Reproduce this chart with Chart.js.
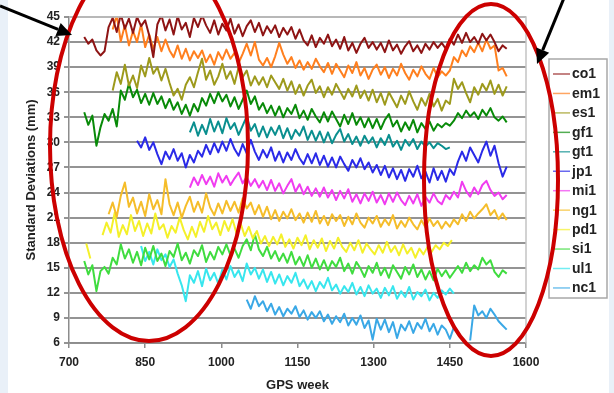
<!DOCTYPE html>
<html>
<head>
<meta charset="utf-8">
<script src="https://cdn.jsdelivr.net/npm/chart.js@4.4.1/dist/chart.umd.min.js"></script>
<style>
  html, body { margin: 0; padding: 0; background: #fff; }
  #wrap { width: 614px; height: 393px; position: relative; }
</style>
</head>
<body>
<div id="wrap"><canvas id="chart" width="614" height="393"></canvas></div>
<script>
// Weekly standard deviations per station, sampled every 8 GPS weeks.
const WEEK_STEP = 8;

const seriesNames = ['co1', 'em1', 'es1', 'gf1', 'gt1', 'jp1', 'mi1', 'ng1', 'pd1', 'si1', 'ul1', 'nc1'];
const seriesColors = ['#8e1414', '#ff7f1e', '#9d9a1c', '#088a08', '#0a8f8f', '#2a2ae8',
                      '#f03cf0', '#f5bd2a', '#f4f02a', '#3fdc3f', '#38e6ee', '#3aa8e6'];
const seriesStart = [730, 786, 786, 730, 938, 834, 938, 778, 734, 730, 842, 1050];

const xTicks = { min: 700, max: 1600, step: 150 };
const yTicks = { min: 6, max: 45, step: 3 };

const co1 = [42.6, 41.8, 42.3, 41.0, 40.4, 40.9, 43.8, 44.9, 43.2, 45.3, 43.6, 44.8, 43.1, 45.0, 43.9, 44.6,
  42.8, 40.2, 44.1, 45.2, 43.4, 44.7, 42.9, 45.1, 43.5, 44.3, 42.6, 44.9, 43.8, 45.2, 44.0, 43.1, 44.6, 42.9,
  44.2, 43.4, 44.8, 43.0, 44.1, 42.7, 43.9, 44.6, 43.2, 44.3, 42.8, 43.9, 43.1, 44.0, 42.6, 43.7, 42.9, 43.8,
  42.4, 43.5, 42.2, 41.6, 42.8, 41.4, 42.5, 41.8, 42.9, 41.5, 42.3, 41.2, 42.6, 41.0, 41.9, 40.7, 41.8, 42.5,
  41.3, 42.0, 41.1, 41.9, 40.8, 42.2, 41.0, 41.7, 40.6, 41.5, 42.1, 40.9, 41.6, 40.7, 41.8, 41.1, 42.0, 41.3,
  41.9, 41.2, 42.4, 41.7, 42.9, 41.9, 43.1, 42.0, 42.6, 41.8, 43.0, 42.2, 42.9, 42.0, 40.9, 41.6, 41.2];

const em1 = [43.5, 45.2, 42.1, 44.0, 41.6, 43.3, 42.0, 44.1, 41.4, 42.9, 41.2, 42.6, 40.9, 42.3, 41.0, 40.2,
  41.6, 40.0, 41.2, 39.8, 40.9, 40.1, 41.0, 39.6, 40.5, 39.3, 40.8, 39.9, 41.1, 40.0, 40.7, 39.5, 40.6, 41.8,
  40.4, 42.0, 39.9, 39.2, 40.1, 39.0, 40.3, 41.9, 40.5, 39.4, 40.2, 38.9, 39.8, 38.7, 39.6, 38.8, 40.0, 39.1,
  38.4, 39.5, 38.2, 39.4, 38.6, 37.8, 39.2, 38.3, 39.6, 38.0, 38.9, 37.6, 38.7, 39.3, 38.1, 39.0, 37.7, 38.8,
  38.0, 39.4, 38.3, 37.5, 38.7, 37.9, 39.1, 38.2, 37.6, 38.9, 37.8, 38.5, 38.0, 38.6, 40.2, 39.6, 41.0, 40.3,
  41.5, 40.8, 41.9, 40.9, 42.3, 41.2, 41.6, 38.6, 38.9, 37.9];

const es1 = [36.2, 38.4, 37.0, 39.3, 36.8, 38.0, 36.5, 39.2, 37.9, 40.1, 38.2, 39.0, 37.4, 38.8, 37.1, 35.6,
  36.4, 35.1, 36.9, 37.8, 36.6, 38.4, 40.0, 37.5, 38.6, 36.9, 37.9, 39.4, 37.6, 38.5, 37.0, 39.0, 37.8, 38.6,
  36.8, 37.9, 36.9, 37.8, 36.6, 38.0, 37.2, 36.4, 37.6, 36.2, 37.3, 35.8, 36.9, 35.6, 36.8, 37.5, 35.9, 36.7,
  35.4, 36.6, 35.7, 37.0, 36.1, 35.2, 36.4, 35.5, 36.8, 35.3, 36.2, 35.0, 36.3, 34.8, 35.9, 34.5, 36.0, 35.1,
  34.2, 35.6, 34.6, 36.1, 34.9, 33.9, 35.3, 34.4, 35.8, 34.3, 35.2, 33.8, 35.0, 34.6, 37.6, 36.4, 37.2, 35.9,
  34.8, 36.6, 35.7, 37.0, 36.2, 37.4, 35.8, 36.9, 35.6, 36.7];

const gf1 = [33.6, 32.1, 33.2, 29.6, 31.8, 33.4, 32.6, 34.0, 31.9, 36.2, 35.1, 37.0, 35.4, 36.3, 34.7, 35.8,
  34.5, 35.9, 34.6, 35.5, 34.1, 35.2, 33.9, 34.8, 33.4, 34.5, 33.2, 34.6, 33.7, 35.3, 34.4, 35.8, 34.7, 36.0,
  34.9, 35.7, 34.3, 35.4, 34.0, 35.1, 36.2, 34.6, 35.5, 33.9, 34.7, 33.5, 34.4, 33.2, 34.3, 33.0, 34.1, 33.4,
  34.5, 32.9, 33.8, 32.7, 34.0, 33.1, 32.4, 33.6, 32.5, 33.7, 32.8, 31.9, 33.3, 32.2, 33.5, 32.1, 33.0, 31.8,
  32.9, 31.7, 32.8, 31.6, 32.7, 33.4, 31.9, 32.6, 31.3, 32.4, 31.5, 32.7, 31.2, 32.3, 31.6, 32.5, 31.4, 32.2,
  31.8, 32.3, 32.0, 32.6, 33.5, 32.9, 33.8, 33.1, 33.6, 32.8, 33.9, 33.2, 34.1, 33.0, 32.6, 33.1, 32.4];

const gt1 = [31.2, 32.4, 30.8, 32.1, 31.0, 32.8, 31.3, 32.5, 31.1, 32.9, 31.6, 32.3, 30.9, 32.0, 33.1, 31.4,
  32.2, 30.7, 31.9, 30.6, 31.8, 30.9, 32.0, 30.5, 31.7, 30.4, 31.5, 30.8, 31.9, 30.3, 31.4, 30.2, 31.3, 30.0,
  31.2, 29.9, 30.9, 31.6, 30.1, 31.0, 29.8, 30.7, 29.6, 30.8, 29.9, 30.6, 29.4, 30.5, 29.7, 30.9, 29.5, 30.2,
  29.1, 30.3, 29.6, 30.4, 29.2, 30.1, 29.5, 30.0, 29.3, 29.9, 29.6, 29.2, 29.4];

const jp1 = [30.2, 29.4, 30.6, 29.1, 30.0, 28.6, 27.4, 28.9, 28.0, 29.2, 27.8, 28.7, 27.0, 28.5, 27.6, 29.0,
  28.3, 29.7, 28.6, 29.9, 28.8, 30.1, 29.0, 30.4, 29.2, 28.4, 29.8, 28.7, 30.3, 28.9, 27.9, 29.1, 28.2, 29.4,
  27.8, 28.9, 27.6, 28.8, 27.9, 29.2, 28.1, 27.4, 28.6, 27.5, 28.7, 27.3, 28.4, 27.1, 28.2, 27.0, 28.3, 27.4,
  26.6, 27.9, 27.0, 28.1, 26.8, 27.6, 26.4, 27.3, 26.1, 27.2, 25.8, 26.9, 25.6, 26.7, 25.4, 26.8, 25.9, 27.2,
  25.7, 26.5, 25.2, 26.9, 25.5, 26.6, 25.3, 26.8, 26.1, 27.7, 28.9, 27.8, 29.4, 28.5, 27.6, 29.0, 30.1, 28.4,
  29.6, 27.5, 25.9, 27.1];

const mi1 = [24.6, 25.8, 24.9, 26.1, 25.0, 25.9, 24.7, 26.3, 25.2, 26.0, 24.9, 25.7, 26.4, 25.1, 25.9, 24.8,
  25.6, 24.6, 25.4, 24.3, 25.5, 24.2, 25.1, 23.9, 24.8, 25.6, 24.1, 25.0, 23.8, 24.7, 23.6, 24.5, 23.5, 24.6,
  23.4, 24.3, 23.1, 24.2, 23.3, 24.4, 22.9, 23.8, 22.7, 23.9, 23.0, 24.1, 22.8, 23.7, 22.6, 23.9, 22.9, 24.0,
  23.1, 22.5, 23.6, 22.7, 23.8, 22.4, 23.5, 22.8, 23.9, 23.0, 22.6, 23.7, 23.2, 24.1, 23.4, 25.3, 24.2, 23.5,
  24.6, 23.8, 24.9, 25.4, 24.3, 23.6, 24.0, 23.2, 23.7];

const ng1 = [21.4, 22.8, 21.1, 23.6, 25.2, 22.3, 23.4, 21.5, 22.9, 21.2, 23.8, 22.0, 23.1, 21.4, 25.6, 22.6,
  21.3, 22.8, 21.0, 22.4, 23.5, 21.7, 22.9, 21.6, 23.9, 22.2, 21.3, 22.7, 21.5, 23.0, 21.8, 22.9, 21.6, 23.3,
  22.1, 22.8, 21.4, 22.5, 21.1, 22.3, 20.8, 21.9, 20.6, 21.7, 20.9, 22.0, 20.7, 21.5, 20.4, 21.6, 20.5, 21.8,
  20.3, 21.2, 20.1, 21.4, 20.6, 21.3, 20.0, 21.1, 20.2, 21.5, 20.4, 19.8, 21.0, 20.3, 21.2, 19.9, 20.8, 20.1,
  21.3, 19.7, 20.6, 19.9, 21.0, 20.2, 19.6, 20.7, 19.8, 20.9, 20.0, 20.6, 19.7, 20.5, 19.9, 20.8, 20.2, 21.4,
  20.6, 21.7, 20.9, 21.5, 22.0, 22.6, 21.3, 21.9, 20.8, 21.5, 20.7];

const pd1 = [17.9, 16.1, null, null, 18.9, 20.4, 19.2, 21.6, 18.7, 20.1, 19.0, 21.3, 19.4, 20.6, 18.8, 20.3,
  19.1, 21.5, 19.6, 20.2, 18.6, 20.0, 19.2, 21.0, 19.5, 18.4, 19.9, 18.7, 20.5, 19.3, 21.2, 19.6, 20.4, 18.9,
  20.6, 19.4, 20.8, 19.1, 20.3, 18.8, 19.9, 18.5, 19.4, 17.9, 18.8, 17.6, 18.7, 17.8, 19.0, 17.5, 18.4, 17.3,
  18.6, 17.7, 18.9, 17.2, 18.3, 17.4, 18.5, 17.0, 18.2, 17.3, 18.6, 17.5, 16.9, 18.0, 17.1, 18.3, 16.8, 17.9,
  17.2, 16.6, 17.7, 16.8, 18.1, 16.9, 17.6, 16.5, 17.8, 16.7, 17.4, 16.2, 17.3, 16.6, 17.5, 16.9, 17.7, 17.2,
  18.0, 17.6, 18.3];

const si1 = [15.8, 14.2, 15.3, 12.2, 14.6, 15.1, 14.3, 16.2, 15.4, 17.8, 16.1, 17.2, 15.6, 16.9, 15.3, 17.4,
  16.0, 17.6, 15.8, 16.7, 15.2, 17.0, 16.3, 17.9, 15.9, 16.8, 15.5, 17.1, 16.4, 17.7, 15.7, 16.9, 16.0, 17.5,
  16.6, 17.8, 16.5, 17.3, 16.2, 17.6, 18.4, 17.1, 19.0, 17.2, 16.4, 17.5, 16.1, 17.0, 15.8, 16.7, 15.6, 16.9,
  15.4, 16.3, 15.2, 16.5, 15.0, 16.1, 14.8, 15.9, 14.7, 15.8, 15.1, 16.2, 14.6, 15.5, 14.3, 15.7, 14.9, 13.9,
  15.2, 14.4, 15.6, 14.1, 15.0, 13.8, 15.3, 14.5, 13.7, 15.1, 14.2, 15.4, 13.9, 14.8, 13.6, 14.6, 13.5, 14.9,
  14.0, 14.7, 13.8, 14.5, 15.2, 14.4, 15.6, 14.6, 15.3, 14.8, 16.2, 15.4, 15.9, 14.5, 13.9, 14.7, 14.3];

const ul1 = [17.6, 15.8, 16.9, 15.4, 17.2, 15.9, 16.6, 15.1, 16.0, 14.3, 12.9, 11.0, 14.1, 13.2, 14.6, 12.8,
  14.9, 13.5, 14.4, 13.1, 14.8, 13.6, 15.2, 13.9, 14.7, 13.4, 15.5, 14.2, 15.0, 13.7, 14.8, 13.3, 14.5, 13.1,
  14.2, 12.9, 14.0, 13.2, 14.4, 12.8, 13.6, 12.5, 13.4, 12.2, 13.3, 12.6, 13.8, 12.3, 13.0, 11.9, 12.8, 12.1,
  13.2, 11.8, 12.7, 11.6, 12.9, 11.9, 12.5, 11.4, 12.6, 11.7, 12.8, 11.3, 12.2, 11.5, 12.7, 11.2, 12.1, 11.6,
  12.4, 11.1, 12.0, 11.4, 12.3, 11.8, 12.5, 11.9];

const nc1 = [11.2, 10.1, 11.6, 10.4, 11.0, 9.8, 10.7, 9.4, 10.3, 9.2, 10.1, 9.5, 10.4, 9.1, 9.9, 8.8,
  9.7, 9.0, 9.8, 8.6, 9.4, 8.3, 9.2, 8.5, 9.5, 8.1, 9.0, 8.2, 9.3, 7.8, 8.7, 6.4, 8.9, 7.6, 8.8, 7.3,
  8.5, 6.6, 8.2, 7.5, 8.6, 7.2, 8.4, 7.7, 8.9, 7.4, 8.3, 7.0, 8.1, 7.6, 6.5, 7.9, null, null, null, 6.3,
  10.5, 9.3, 9.8, 9.0, 10.1, 9.4, 8.6, 8.1, 7.6];

const seriesValues = [co1, em1, es1, gf1, gt1, jp1, mi1, ng1, pd1, si1, ul1, nc1];

const FONT = "'Liberation Sans', Arial, sans-serif";
Chart.defaults.font.family = FONT;
Chart.defaults.color = '#222';

function toPoints(values, start) {
  return values.map((v, i) => ({ x: start + i * WEEK_STEP, y: v }));
}

const datasets = seriesNames.map((name, k) => ({
  label: name,
  data: toPoints(seriesValues[k], seriesStart[k]),
  borderColor: seriesColors[k],
  backgroundColor: seriesColors[k],
  borderWidth: 2,
  borderJoinStyle: 'round',
  pointRadius: 0,
  tension: 0,
  spanGaps: false
}));

// light frame on the top/right of the plot plus the pale page edges
const framePlugin = {
  id: 'frame',
  beforeDraw(chart) {
    const ctx = chart.ctx;
    ctx.save();
    ctx.fillStyle = '#e9f0f8';
    ctx.fillRect(0, 0, 8, chart.height);
    ctx.fillRect(chart.width - 5, 0, 5, chart.height);
    ctx.restore();
  },
  afterDatasetsDraw(chart) {
    const { ctx, chartArea: a } = chart;
    ctx.save();
    ctx.strokeStyle = '#c4c4c4';
    ctx.lineWidth = 1.5;
    ctx.beginPath();
    ctx.moveTo(a.left, a.top);
    ctx.lineTo(a.right, a.top);
    ctx.lineTo(a.right, a.bottom);
    ctx.stroke();
    ctx.restore();
  }
};

// boxed legend at the right, one short line per station
const boxLegend = {
  id: 'boxLegend',
  afterDraw(chart) {
    const ctx = chart.ctx;
    const x0 = 549, y0 = 59, w = 58, h = 239;
    const rowH = 19.45;
    ctx.save();
    ctx.fillStyle = '#fff';
    ctx.fillRect(x0, y0, w, h);
    ctx.strokeStyle = '#a8a8a8';
    ctx.lineWidth = 1.5;
    ctx.strokeRect(x0, y0, w, h);
    ctx.font = 'bold 14px ' + FONT;
    ctx.textBaseline = 'middle';
    chart.data.datasets.forEach((ds, i) => {
      const y = y0 + 15 + i * rowH;
      ctx.strokeStyle = ds.borderColor;
      ctx.globalAlpha = 0.7;
      ctx.lineWidth = 1.5;
      ctx.beginPath();
      ctx.moveTo(x0 + 4, y);
      ctx.lineTo(x0 + 21, y);
      ctx.stroke();
      ctx.globalAlpha = 1;
      ctx.fillStyle = '#222';
      ctx.fillText(ds.label, x0 + 23, y + 0.5);
    });
    ctx.restore();
  }
};

// red rings and black arrows drawn over the chart
function arrow(ctx, x1, y1, x2, y2) {
  const ang = Math.atan2(y2 - y1, x2 - x1);
  const len = 15, half = 7;
  const bx = x2 - len * Math.cos(ang), by = y2 - len * Math.sin(ang);
  ctx.beginPath();
  ctx.moveTo(x1, y1);
  ctx.lineTo(bx, by);
  ctx.stroke();
  ctx.beginPath();
  ctx.moveTo(x2, y2);
  ctx.lineTo(bx + half * Math.sin(ang), by - half * Math.cos(ang));
  ctx.lineTo(bx - half * Math.sin(ang), by + half * Math.cos(ang));
  ctx.closePath();
  ctx.fill();
}

const markup = {
  id: 'markup',
  afterDraw(chart) {
    const ctx = chart.ctx;
    ctx.save();
    ctx.strokeStyle = '#cc0000';
    ctx.lineWidth = 4;
    ctx.beginPath();
    ctx.ellipse(149, 146, 99, 195, 0, 0, Math.PI * 2);
    ctx.stroke();
    ctx.beginPath();
    ctx.ellipse(491, 180, 67, 176, 0, 0, Math.PI * 2);
    ctx.stroke();
    ctx.strokeStyle = '#000';
    ctx.fillStyle = '#000';
    ctx.lineWidth = 3;
    arrow(ctx, 0, 6, 72, 35);
    arrow(ctx, 564, -2, 537, 64);
    ctx.restore();
  }
};

new Chart(document.getElementById('chart'), {
  type: 'line',
  data: { datasets },
  options: {
    responsive: false,
    animation: false,
    layout: { padding: { top: 17, right: 88, bottom: 0, left: 0 } },
    plugins: { legend: { display: false }, tooltip: { enabled: false } },
    scales: {
      x: {
        type: 'linear',
        min: xTicks.min,
        max: xTicks.max,
        afterFit(scale) { scale.height = 50; },
        ticks: {
          stepSize: xTicks.step,
          padding: 7,
          font: { size: 12, weight: 'bold' },
          color: '#222',
          callback: (v) => String(v)
        },
        grid: { drawOnChartArea: false, tickLength: 5, color: '#8c8c8c', lineWidth: 1.5 },
        border: { color: '#8c8c8c', width: 1.5 },
        title: {
          display: true,
          text: 'GPS week',
          font: { size: 13, weight: 'bold' },
          color: '#222',
          padding: { top: 0, bottom: 0 }
        }
      },
      y: {
        type: 'linear',
        min: yTicks.min,
        max: yTicks.max,
        afterFit(scale) { scale.width = 69; },
        ticks: {
          stepSize: yTicks.step,
          padding: 4,
          font: { size: 12, weight: 'bold' },
          color: '#222',
          callback: (v) => String(v)
        },
        grid: { color: '#949494', lineWidth: 2, tickLength: 5 },
        border: { color: '#8c8c8c', width: 1.5 },
        title: {
          display: true,
          text: 'Standard Deviations (mm)',
          font: { size: 13, weight: 'bold' },
          color: '#222',
          padding: { top: 24, bottom: 0 }
        }
      }
    }
  },
  plugins: [framePlugin, boxLegend, markup]
});
</script>
</body>
</html>
